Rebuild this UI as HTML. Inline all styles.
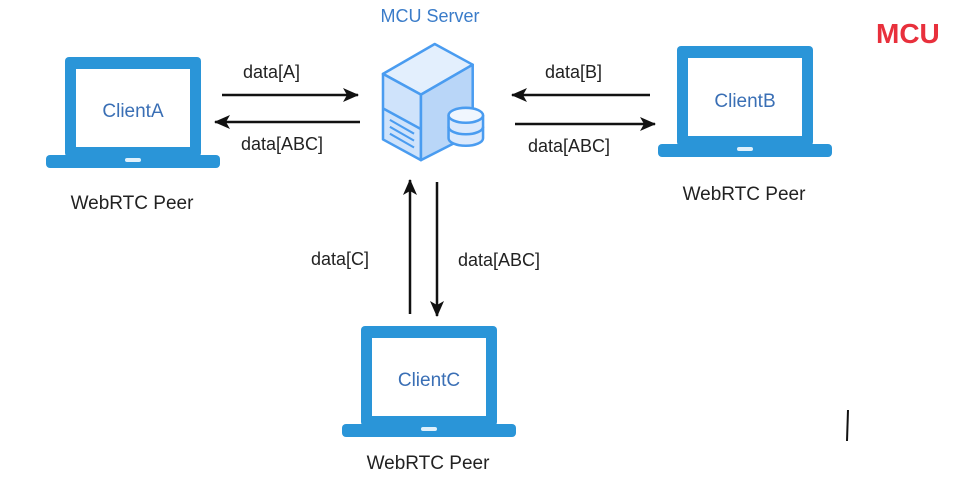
<!DOCTYPE html>
<html><head><style>
html,body{margin:0;padding:0;background:#fff;}
svg{display:block;}
text{font-family:"Liberation Sans",Arial,sans-serif;}
</style></head><body>
<svg width="978" height="491" viewBox="0 0 978 491" xmlns="http://www.w3.org/2000/svg">
<defs>
<marker id="ah" markerWidth="16" markerHeight="16" refX="15" refY="8" orient="auto" markerUnits="userSpaceOnUse">
<path d="M0,1 L16,8 L0,15 L4,8 Z" fill="#111"/>
</marker>
<g id="laptop">
<rect x="0" y="0" width="136" height="100" rx="4" fill="#2a95d8"/>
<rect x="11" y="12" width="114" height="78" fill="#fff"/>
<rect x="-19" y="98" width="174" height="13" rx="4" fill="#2a95d8"/>
<rect x="60" y="101" width="16" height="4" rx="2" fill="#dff0fb"/>
</g>
</defs>
<rect width="978" height="491" fill="#fff"/>

<use href="#laptop" x="65" y="57"/>
<text x="133" y="117" font-size="19" fill="#3a6fb5" text-anchor="middle">ClientA</text>
<text x="132" y="209" font-size="19" fill="#222" text-anchor="middle">WebRTC Peer</text>

<use href="#laptop" x="677" y="46"/>
<text x="745" y="107" font-size="19" fill="#3a6fb5" text-anchor="middle">ClientB</text>
<text x="744" y="200" font-size="19" fill="#222" text-anchor="middle">WebRTC Peer</text>

<use href="#laptop" x="361" y="326"/>
<text x="429" y="386" font-size="19" fill="#3a6fb5" text-anchor="middle">ClientC</text>
<text x="428" y="469" font-size="19" fill="#222" text-anchor="middle">WebRTC Peer</text>

<text x="430" y="22" font-size="18" fill="#3a7cc9" text-anchor="middle">MCU Server</text>
<g transform="translate(383,44) scale(1.15) translate(-383,-44)">
<g stroke="#4a9cf0" stroke-width="2.2" stroke-linejoin="round" fill="#cfe3fb">
<path d="M383,70 L428,44 L461,62 L416,88 Z" fill="#e3effd"/>
<path d="M383,70 L416,88 L416,145 L383,127 Z"/>
<path d="M416,88 L461,62 L461,122 L416,145 Z" fill="#b9d6f8"/>
<path d="M383,100 L416,118" fill="none"/>
<path d="M389,110 L410,122 M389,116 L410,128 M389,122 L410,134" fill="none" stroke-width="1.8"/>
<path d="M440,106 L440,126 A15,6.5 0 0 0 470,126 L470,106" fill="#dbe9fc"/>
<path d="M440,116 A15,6.5 0 0 0 470,116" fill="none"/>
<ellipse cx="455" cy="106" rx="15" ry="6.5" fill="#f0f6fe"/>
</g>
</g>

<g stroke="#111" stroke-width="2.5" fill="none">
<line x1="222" y1="95" x2="358" y2="95" marker-end="url(#ah)"/>
<line x1="360" y1="122" x2="215" y2="122" marker-end="url(#ah)"/>
<line x1="650" y1="95" x2="512" y2="95" marker-end="url(#ah)"/>
<line x1="515" y1="124" x2="655" y2="124" marker-end="url(#ah)"/>
<line x1="410" y1="314" x2="410" y2="180" marker-end="url(#ah)"/>
<line x1="437" y1="182" x2="437" y2="316" marker-end="url(#ah)"/>
</g>
<g font-size="18" fill="#222">
<text x="243" y="78">data[A]</text>
<text x="241" y="150">data[ABC]</text>
<text x="545" y="78">data[B]</text>
<text x="528" y="152">data[ABC]</text>
<text x="311" y="265">data[C]</text>
<text x="458" y="266">data[ABC]</text>
</g>
<text x="876" y="43" font-size="28" font-weight="bold" fill="#e8303c">MCU</text>
<line x1="848" y1="410" x2="847" y2="441" stroke="#111" stroke-width="2"/>
</svg>
</body></html>
